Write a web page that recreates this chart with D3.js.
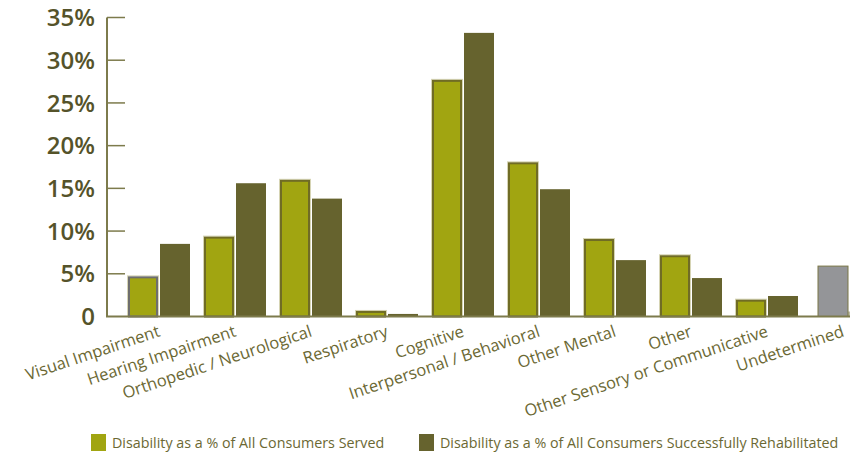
<!DOCTYPE html>
<html>
<head>
<meta charset="utf-8">
<script src="https://cdn.jsdelivr.net/npm/d3@7"></script>
<style>
  body { margin: 0; background: #fff; }
  svg { display: block; font-family: "Open Sans", sans-serif; }
</style>
</head>
<body>
<div id="grafico"></div>
<script>
// datos
var categorias = ["Visual Impairment", "Hearing Impairment", "Orthopedic / Neurological", "Respiratory",
    "Cognitive", "Interpersonal / Behavioral", "Other Mental", "Other",
    "Other Sensory or Communicative", "Undetermined"];
var servidos = [4.7, 9.35, 16.0, 0.65, 27.7, 18.05, 9.07, 7.17, 1.97, 5.9];
var rehabilitados = [8.5, 15.6, 13.8, 0.3, 33.2, 14.9, 6.6, 4.5, 2.4, null];
var ticksY = [0, 5, 10, 15, 20, 25, 30, 35];
var leyenda = ["Disability as a % of All Consumers Served", "Disability as a % of All Consumers Successfully Rehabilitated"];

var width = 860;
var height = 454;
var colorClaro = "#a1a511";
var colorOscuro = "#66632e";
var colorGris = "#949598";
var colorTexto = "#6b6833";

var svg = d3.select("#grafico")
    .append("svg")
    .attr("width", width)
    .attr("height", height);

// escalas
var y = d3.scaleLinear().domain([0, 35]).range([316.5, 17.5]);

var x0 = d3.scaleBand()
    .domain(categorias)
    .range([121, 881])
    .paddingInner(14 / 76)
    .paddingOuter(7 / 76);

var x1 = d3.scaleBand()
    .domain(["servidos", "rehabilitados"])
    .range([0, x0.bandwidth()])
    .paddingInner(2 / 32);

var ejeX = 107;
var finEje = 850;

// eje Y
svg.append("line")
    .attr("x1", ejeX).attr("x2", ejeX)
    .attr("y1", y(35)).attr("y2", y(0))
    .attr("stroke", "#7d7b4c").attr("stroke-width", 2);

svg.selectAll(".tick")
    .data(ticksY.filter(function(d) { return d > 0; }))
    .enter()
    .append("line")
    .attr("x1", ejeX).attr("x2", ejeX + 18)
    .attr("y1", function(d) { return y(d); })
    .attr("y2", function(d) { return y(d); })
    .attr("stroke", "#7d7b4c").attr("stroke-width", 1.5);

svg.selectAll(".etiquetaY")
    .data(ticksY)
    .enter()
    .append("text")
    .attr("x", 95)
    .attr("y", function(d) { return y(d); })
    .attr("dy", "0.36em")
    .attr("text-anchor", "end")
    .attr("font-size", 24)
    .attr("font-weight", 600)
    .attr("fill", "#55532a")
    .text(function(d) { return d === 0 ? "0" : d + "%"; });

// barras
var grupos = svg.selectAll(".grupo")
    .data(categorias)
    .enter()
    .append("g")
    .attr("transform", function(d) { return "translate(" + x0(d) + ",0)"; });

grupos.each(function(c, i) {
    var g = d3.select(this);
    var s = servidos[i];
    var r = rehabilitados[i];
    if (r === null) {
        // Undetermined: una sola barra gris
        var xg = x1.bandwidth() * 0.2;
        g.append("rect")
            .attr("x", xg).attr("y", y(s))
            .attr("width", x1.bandwidth()).attr("height", y(0) - y(s))
            .attr("fill", colorGris)
            .attr("stroke", "#7a7646").attr("stroke-width", 1);
        return;
    }
    // halo claro
    g.append("rect")
        .attr("x", x1("servidos") - 0.5).attr("y", y(s) - 0.5)
        .attr("width", x1.bandwidth() + 1).attr("height", y(0) - y(s) + 0.5)
        .attr("fill", "none")
        .attr("stroke", "#d6d4b4").attr("stroke-width", 1);
    g.append("rect")
        .attr("x", x1("servidos") + 1).attr("y", y(s) + 1)
        .attr("width", x1.bandwidth() - 2).attr("height", Math.max(0, y(0) - y(s) - 1))
        .attr("fill", colorClaro)
        .attr("stroke", i === 0 ? "#6e6e6e" : "#706c25").attr("stroke-width", 2);
    g.append("rect")
        .attr("x", x1("rehabilitados")).attr("y", y(r))
        .attr("width", x1.bandwidth()).attr("height", y(0) - y(r))
        .attr("fill", colorOscuro);
});

// eje X
svg.append("line")
    .attr("x1", ejeX - 1).attr("x2", finEje)
    .attr("y1", y(0)).attr("y2", y(0))
    .attr("stroke", "#7d7b4c").attr("stroke-width", 2);
svg.append("line")
    .attr("x1", finEje - 1).attr("x2", finEje - 1)
    .attr("y1", y(0) - 5).attr("y2", y(0))
    .attr("stroke", "#7d7b4c").attr("stroke-width", 1);

// etiquetas del eje X
svg.selectAll(".etiquetaX")
    .data(categorias)
    .enter()
    .append("text")
    .attr("transform", function(d) {
        var cx = x0(d) + x0.bandwidth() / 2 + 2;
        return "translate(" + cx + "," + 336 + ") rotate(-18.5)";
    })
    .attr("text-anchor", "end")
    .attr("font-size", 16.5)
    .attr("fill", colorTexto)
    .text(function(d) { return d; });

// leyenda
var posLeyenda = [91, 419];
var coloresLeyenda = [colorClaro, colorOscuro];
var items = svg.selectAll(".leyenda")
    .data(leyenda)
    .enter()
    .append("g")
    .attr("transform", function(d, i) { return "translate(" + posLeyenda[i] + ",434)"; });

items.append("rect")
    .attr("width", 15).attr("height", 17)
    .attr("fill", function(d, i) { return coloresLeyenda[i]; });

items.append("text")
    .attr("x", 21).attr("y", 9)
    .attr("dy", "0.35em")
    .attr("font-size", 14.3)
    .attr("fill", colorTexto)
    .text(function(d) { return d; });
</script>
</body>
</html>
